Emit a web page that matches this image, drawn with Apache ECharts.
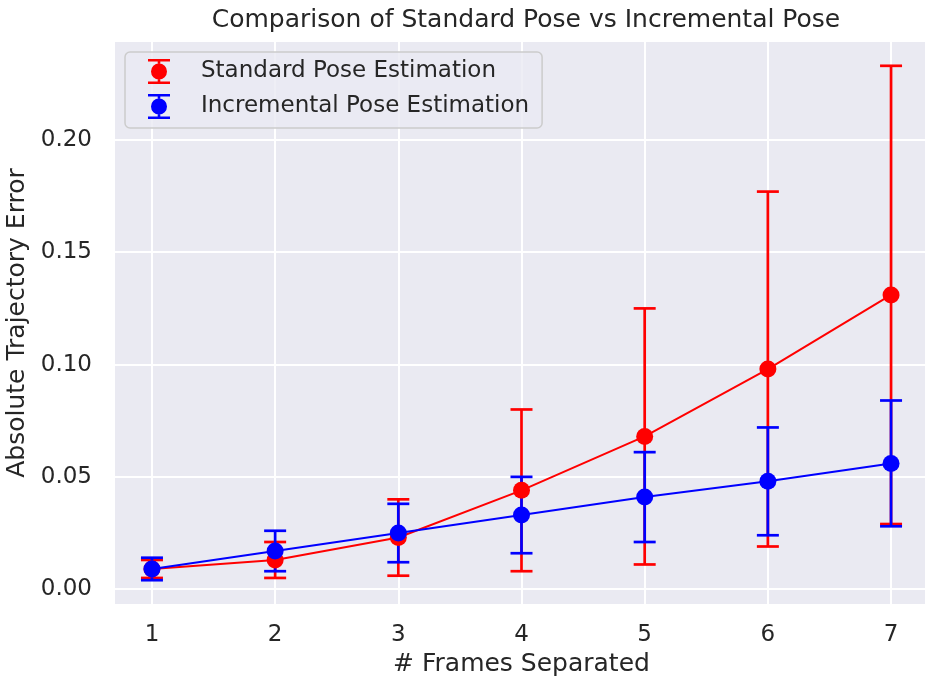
<!DOCTYPE html>
<html>
<head>
<meta charset="utf-8">
<script src="https://cdn.jsdelivr.net/npm/echarts@6/dist/echarts.min.js"></script>
<style>
  html, body { margin: 0; padding: 0; background: #fff; }
  #chart { width: 925px; height: 682px; }
</style>
</head>
<body>
<div id="chart"></div>
<script>
// values
const frames = [1, 2, 3, 4, 5, 6, 7]
const standardMean = [0.009, 0.013, 0.023, 0.044, 0.068, 0.098, 0.131]
const standardStd = [0.004, 0.008, 0.017, 0.036, 0.057, 0.079, 0.102]
const incrementalMean = [0.009, 0.017, 0.025, 0.033, 0.041, 0.048, 0.056]
const incrementalStd = [0.005, 0.009, 0.013, 0.017, 0.020, 0.024, 0.028]
const yTicks = [0, 0.05, 0.10, 0.15, 0.20]

const font = 'DejaVu Sans'
const textColor = '#262626'

// errorbar glyph for the legend (caps, stems and marker)
const errIcon = 'path://M0 0H22V2.5H0Z M9.7 2.5H12.3V4.5H9.7Z M3 12.5A8 8 0 1 1 19 12.5A8 8 0 1 1 3 12.5Z M9.7 20.5H12.3V22.5H9.7Z M0 22.5H22V25H0Z'

function errData (mean, std) {
  return frames.map((f, i) => [f, mean[i] - std[i], mean[i] + std[i]])
}

function errRender (color) {
  return function (params, api) {
    const x = api.value(0)
    const top = api.coord([x, api.value(2)])
    const bot = api.coord([x, api.value(1)])
    const half = 11
    const style = { stroke: color, lineWidth: 2.7 }
    return {
      type: 'group',
      children: [
        { type: 'line', shape: { x1: top[0], y1: top[1], x2: bot[0], y2: bot[1] }, style },
        { type: 'line', shape: { x1: top[0] - half, y1: top[1], x2: top[0] + half, y2: top[1] }, style },
        { type: 'line', shape: { x1: bot[0] - half, y1: bot[1], x2: bot[0] + half, y2: bot[1] }, style }
      ]
    }
  }
}

function meanLine (name, mean, color, z) {
  return {
    name,
    type: 'line',
    z,
    data: frames.map((f, i) => [f, mean[i]]),
    symbol: 'circle',
    symbolSize: 17,
    itemStyle: { color },
    lineStyle: { color, width: 2 },
    emphasis: { disabled: true },
    animation: false
  }
}

const chart = echarts.init(document.getElementById('chart'))
chart.setOption({
  backgroundColor: '#ffffff',
  textStyle: { fontFamily: font },
  title: {
    text: 'Comparison of Standard Pose vs Incremental Pose',
    left: 521,
    top: 3,
    textAlign: 'center',
    textStyle: { fontFamily: font, fontSize: 25, fontWeight: 'normal', color: textColor }
  },
  legend: {
    left: 125,
    top: 52,
    orient: 'vertical',
    itemWidth: 22,
    itemHeight: 25,
    itemGap: 10,
    padding: [7, 13, 9, 23],
    backgroundColor: 'rgba(234,234,242,0.8)',
    borderColor: '#cccccc',
    borderWidth: 1.5,
    borderRadius: 5,
    textStyle: { fontFamily: font, fontSize: 23, color: textColor, padding: [3, 0, 0, 26] },
    data: [
      { name: 'Standard Pose Estimation', icon: errIcon },
      { name: 'Incremental Pose Estimation', icon: errIcon }
    ]
  },
  grid: {
    left: 115,
    right: -3,
    top: 42,
    bottom: 78,
    outerBoundsMode: 'none',
    show: true,
    backgroundColor: '#EAEAF2',
    borderWidth: 0
  },
  xAxis: {
    type: 'value',
    min: 0.7,
    max: 7.3,
    name: '# Frames Separated',
    nameLocation: 'middle',
    nameGap: 48,
    nameTextStyle: { fontFamily: font, fontSize: 25, color: textColor },
    axisLine: { show: false },
    axisTick: { show: false, customValues: frames },
    axisLabel: { customValues: frames, fontFamily: font, fontSize: 23, color: textColor, margin: 20 },
    splitLine: { show: true, lineStyle: { color: '#ffffff', width: 2 } }
  },
  yAxis: {
    type: 'value',
    min: -0.0066,
    max: 0.2436,
    name: 'Absolute Trajectory Error',
    nameLocation: 'middle',
    nameGap: 80,
    nameTextStyle: { fontFamily: font, fontSize: 25, color: textColor },
    axisLine: { show: false },
    axisTick: { show: false, customValues: yTicks },
    axisLabel: {
      customValues: yTicks,
      fontFamily: font,
      fontSize: 23,
      color: textColor,
      margin: 23,
      formatter: v => v.toFixed(2)
    },
    splitLine: { show: true, lineStyle: { color: '#ffffff', width: 2 } }
  },
  series: [
    {
      name: 'Standard error',
      type: 'custom',
      z: 1,
      renderItem: errRender('#ff0000'),
      encode: { x: 0, y: [1, 2] },
      data: errData(standardMean, standardStd),
      animation: false
    },
    {
      name: 'Incremental error',
      type: 'custom',
      z: 2,
      renderItem: errRender('#0000ff'),
      encode: { x: 0, y: [1, 2] },
      data: errData(incrementalMean, incrementalStd),
      animation: false
    },
    meanLine('Standard Pose Estimation', standardMean, '#ff0000', 3),
    meanLine('Incremental Pose Estimation', incrementalMean, '#0000ff', 4)
  ]
})
</script>
</body>
</html>
